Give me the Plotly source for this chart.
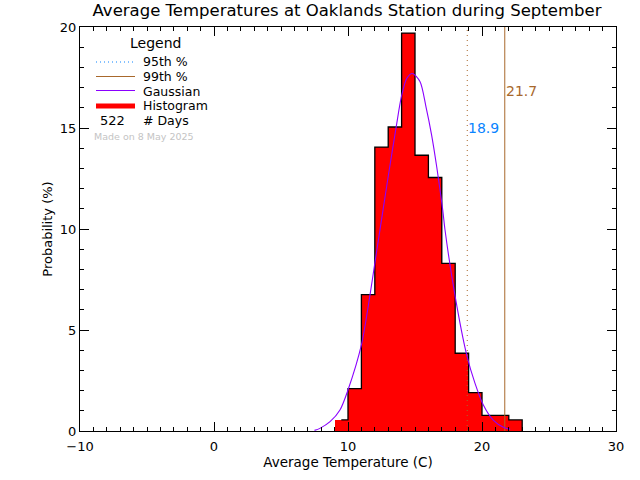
import plotly.graph_objects as go

bin_left = [9, 10, 11, 12, 13, 14, 15, 16, 17, 18, 19, 20, 21, 22]
bin_prob = [0.55, 2.1, 6.75, 14.05, 15.05, 19.7, 13.65, 12.55, 8.3, 3.85, 1.9, 0.77, 0.77, 0.55]
outline_x = [9.5, 10, 11, 12, 13, 14, 15, 16, 17, 18, 19, 20, 21, 22, 23]
outline_y = [0.55, 2.1, 6.75, 14.05, 15.05, 19.7, 13.65, 12.55, 8.3, 3.85, 1.9, 0.77, 0.77, 0.55, 0]
gauss_x = [7.5, 7.9, 8.66, 9.4, 10, 11, 11.64, 12, 12.5, 13, 13.6, 14, 14.4, 14.8, 15.37, 15.82,
           16.24, 16.62, 17.07, 17.24, 18, 18.86, 19.48, 20.1, 20.84, 21.6, 22.1]
gauss_y = [0.03, 0.13, 0.46, 1.04, 2.03, 4.26, 6.73, 8.3, 10.45, 12.6, 15.07, 16.6, 17.47, 17.7, 17.3, 16.05,
           14.65, 13.08, 10.94, 9.95, 6.65, 3.76, 2.36, 1.29, 0.54, 0.18, 0.08]
p95 = 18.9
p99 = 21.7
y_span = [0, 20]
n_days = 522

BROWN = "#a8682c"
BLUE = "#0a84ff"
PURPLE = "#8a00ff"
FONT = "DejaVu Sans"

fig = go.Figure()
fig.add_trace(go.Bar(x=[b + 0.5 for b in bin_left], y=bin_prob, width=1,
                     marker=dict(color="#ff0000", line=dict(width=0)), showlegend=False))
fig.add_trace(go.Scatter(x=outline_x, y=outline_y, mode="lines", line=dict(color="black", width=1.3, shape="hv"),
                         showlegend=False))
fig.add_trace(go.Scatter(x=[p95, p95], y=y_span, mode="lines", line=dict(color=BROWN, width=1, dash="1px,4px"),
                         showlegend=False))
fig.add_trace(go.Scatter(x=[p99, p99], y=y_span, mode="lines", line=dict(color=BROWN, width=1), showlegend=False))
fig.add_trace(go.Scatter(x=gauss_x, y=gauss_y, mode="lines", line=dict(color=PURPLE, width=1.1, shape="spline", smoothing=0.8),
                         showlegend=False))

axis = dict(showgrid=False, zeroline=False, showline=True, linecolor="black", linewidth=1,
            mirror="allticks", ticks="inside", ticklen=9, tickcolor="black", tickwidth=1,
            tickfont=dict(family=FONT, size=13, color="black"))
fig.update_xaxes(**axis, range=[-10, 30], dtick=10, tick0=-10, ticklabelstandoff=3,
                 minor=dict(dtick=1, ticks="inside", ticklen=4, tickcolor="black", tickwidth=1, showgrid=False),
                 title=dict(text="Average Temperature (C)", font=dict(family=FONT, size=13.5, color="black"), standoff=4))
fig.update_yaxes(**axis, range=[0, 20], dtick=5, tick0=0,
                 minor=dict(dtick=1, ticks="inside", ticklen=4, tickcolor="black", tickwidth=1, showgrid=False),
                 title=dict(text="Probability (%)", font=dict(family=FONT, size=13, color="black"), standoff=4))


def px(x):
    return (x - 80) / 536


def py(y):
    return (431 - y) / 404


def label(text, x, y, size=12.5, color="black"):
    return dict(x=px(x), y=py(y), xref="paper", yref="paper", text=text, showarrow=False, xanchor="left",
                yanchor="middle", xshift=-1, font=dict(family=FONT, size=size, color=color))


def key(y, color, width, dash="solid"):
    return dict(type="line", xref="paper", yref="paper", x0=px(96), x1=px(135), y0=py(y), y1=py(y),
                line=dict(color=color, width=width, dash=dash))


annots = [
    dict(x=p95, y=15.0, xref="x", yref="y", text=f"{p95}", showarrow=False, xanchor="left", xshift=-1,
         font=dict(family=FONT, size=14, color=BLUE)),
    dict(x=p99, y=16.85, xref="x", yref="y", text=f"{p99}", showarrow=False, xanchor="left", xshift=-1,
         font=dict(family=FONT, size=14, color=BROWN)),
    label("Legend", 129, 43, 14),
    label("95th %", 142, 62),
    label("99th %", 142, 76.5),
    label("Gaussian", 142, 91),
    label("Histogram", 142, 106),
    label(f"{n_days}", 99, 120.5, 13),
    label("# Days", 142, 120.5),
    label("Made on 8 May 2025", 93, 136, 9.5, "#c4c4c4"),
]
shapes = [
    key(62, BLUE, 1, "1px,3px"),
    key(76.5, BROWN, 1),
    key(90.5, PURPLE, 1),
    key(106, "#ff0000", 5),
]

fig.update_layout(
    width=640, height=480, autosize=False,
    margin=dict(l=80, r=24, t=27, b=49, pad=0),
    paper_bgcolor="white", plot_bgcolor="white",
    barmode="overlay", bargap=0, showlegend=False,
    title=dict(text="Average Temperatures at Oaklands Station during September",
               x=347 / 640, xanchor="center", y=1 - 10 / 480, yanchor="middle",
               font=dict(family=FONT, size=16.5, color="black")),
    annotations=annots, shapes=shapes,
)

fig.write_html("out.html", config={"displayModeBar": False}, post_script="document.body.style.margin='0';")
